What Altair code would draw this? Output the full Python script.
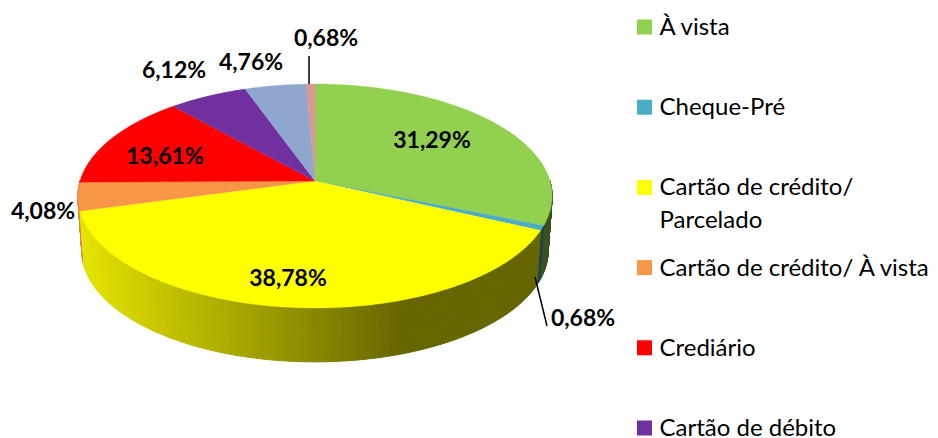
import math
import altair as alt

# --- data ---
shares = [31.29, 0.68, 38.78, 4.08, 13.61, 6.12, 4.76, 0.68]
share_labels = ["31,29%", "0,68%", "38,78%", "4,08%", "13,61%", "6,12%", "4,76%", "0,68%"]
slice_colors = ["#92D050", "#4BACC6", "#FFFF00", "#F79646", "#FF0000", "#7030A0", "#8FA6CE", "#D99694"]
legend_names = ["À vista", "Cheque-Pré", "Cartão de crédito/\nParcelado",
                "Cartão de crédito/ À vista", "Crediário", "Cartão de débito"]

# --- layout (plot-area pixels) ---
W, H = 922, 430
CX, CY = 307.0, 173.0
PERSP, RX, RY = 0.134, 235.0, 110.0
LOW_RX, LOW_RY, DEPTH = 231.0, 109.0, 55.0
FONT = "Lato"


def rim(deg, lower=False):
    t = math.radians(deg)
    u, v = math.sin(t), math.cos(t)
    d = 1 + PERSP * v
    if lower:
        return [CX + LOW_RX * u / d, CY + DEPTH - LOW_RY * v / d]
    return [CX + RX * u / d, CY - RY * v / d]


def shade(color, x):
    f = 0.9 - (x - 72) / (395 - 72) * 0.5
    f = max(0.4, min(0.9, f))
    r, g, b = (int(color[i:i + 2], 16) for i in (1, 3, 5))
    return "#%02x%02x%02x" % (int(r * f), int(g * f), int(b * f))


def feature(ring, color):
    return {"type": "Feature",
            "geometry": {"type": "Polygon", "coordinates": [ring + [ring[0]]]},
            "properties": {"color": color}}


tops, walls = [], []
start = 0.0
for share, color in zip(shares, slice_colors):
    a0 = start * 3.6
    a1 = (start + share) * 3.6
    start += share
    n = max(3, int((a1 - a0) / 0.5))
    angles = [a0 + (a1 - a0) * i / n for i in range(n + 1)]
    tops.append(feature([[CX, CY]] + [rim(a) for a in angles], color))
    for b0, b1 in zip(angles[:-1], angles[1:]):
        if b1 < 90 or b0 > 270:
            continue
        ring = [rim(b0), rim(b1), rim(b1, True), rim(b0, True)]
        walls.append((abs((b0 + b1) / 2 - 180),
                      feature(ring, shade(color, (ring[0][0] + ring[1][0]) / 2))))
walls = [f for _, f in sorted(walls, key=lambda p: -p[0])]

xs = alt.Scale(domain=[0, W], range=[0, W])
ys = alt.Scale(domain=[0, H], range=[0, H])


def geo(features, sw):
    return alt.Chart(alt.Data(values=features)).mark_geoshape(strokeWidth=sw).encode(
        fill=alt.Color("properties.color:N", scale=None),
        stroke=alt.Color("properties.color:N", scale=None),
    ).project(type="identity", scale=1, translate=[0, 0])


label_pos = [(424, 133), (575, 311), (280, 271), (35, 204), (157, 149), (166, 63), (243, 55), (318, 31)]
labels = [{"t": t, "x": p[0], "y": p[1]} for t, p in zip(share_labels, label_pos)]
label_layer = alt.Chart(alt.Data(values=labels)).mark_text(
    font=FONT, fontWeight="bold", fontSize=23, color="#000000", baseline="middle", align="center"
).encode(x=alt.X("x:Q", scale=xs, axis=None), y=alt.Y("y:Q", scale=ys, axis=None), text="t:N")

leaders = [{"x": 301, "y": 48, "x2": 301, "y2": 76}, {"x": 527, "y": 269, "x2": 539, "y2": 318}]
leader_layer = alt.Chart(alt.Data(values=leaders)).mark_rule(color="#000000", strokeWidth=1.5).encode(
    x=alt.X("x:Q", scale=xs, axis=None), y=alt.Y("y:Q", scale=ys, axis=None), x2="x2:Q", y2="y2:Q")

legend_rows = [{"name": n, "color": c, "py": 19 + i * 80.2, "px": 636.5} for i, (n, c) in enumerate(zip(legend_names, slice_colors))]
legend_sq = alt.Chart(alt.Data(values=legend_rows)).mark_square(size=225, opacity=1).encode(
    x=alt.X("px:Q", scale=xs, axis=None),
    y=alt.Y("py:Q", scale=ys, axis=None),
    fill=alt.Color("color:N", scale=None),
)
legend_tx = alt.Chart(alt.Data(values=legend_rows)).mark_text(
    font=FONT, fontSize=24, color="#000000", align="left", baseline="alphabetic",
    dx=15, dy=8, lineBreak="\n", lineHeight=33,
).encode(
    x=alt.X("px:Q", scale=xs, axis=None),
    y=alt.Y("py:Q", scale=ys, axis=None),
    text="name:N",
)

chart = alt.layer(
    geo(walls, 1.0), geo(tops, 0.3), leader_layer, label_layer, legend_sq, legend_tx
).properties(
    width=W, height=H, padding=0, autosize=alt.AutoSizeParams(type="none")
).configure_view(stroke=None)

chart.save("out.html", embed_options={"renderer": "svg", "actions": False})
